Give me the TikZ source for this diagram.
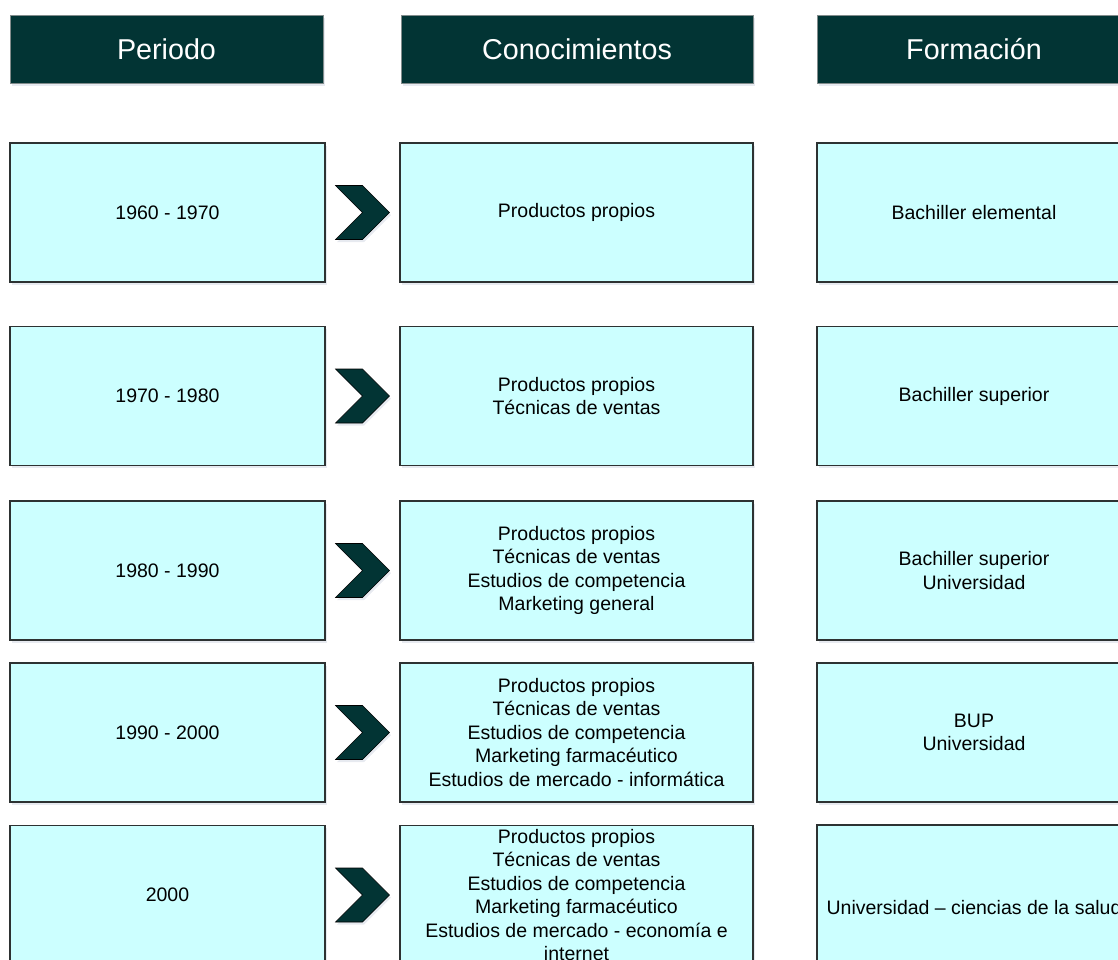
\documentclass[tikz,border=0pt]{standalone}
\usepackage{fontspec}
\setmainfont{Liberation Sans}
\usetikzlibrary{calc,shadows}
\definecolor{headfill}{RGB}{2,52,52}
\definecolor{headline}{RGB}{130,140,140}
\definecolor{cellfill}{RGB}{204,255,255}
\definecolor{cellline}{RGB}{45,50,50}
\definecolor{shadowcol}{RGB}{60,80,130}
\begin{document}
\begin{tikzpicture}[x=1pt, y=-1pt,
    every node/.style={align=center, inner sep=0pt, font=\fontsize{19.5}{23.5}\selectfont},
    softshadow/.style={drop shadow={shadow xshift=1.5pt, shadow yshift=-2.5pt, opacity=0.12, fill=shadowcol}},
    head/.style={draw=headline, fill=headfill, text=white, line width=1pt, minimum height=68pt,
        font=\fontsize{28.7}{34}\selectfont, softshadow},
    cell/.style={draw=cellline, fill=cellfill, line width=1.3pt, minimum height=139pt, softshadow},
    chev/.style={draw=black, fill=headfill, line width=0.6pt, softshadow}]
    \clip (0,0) rectangle (1118,959);

    % Headers
    \node[head, minimum width=313pt] (hp) at (166.5,49) {Periodo};
    \node[head, minimum width=352pt] (hc) at (577,49) {Conocimientos};
    \node[head, minimum width=314pt] (hf) at (974,49) {Formación};

    % Periodo
    \node[cell, minimum width=315pt] (p1) at (167.5,212.5) {1960 - 1970};
    \node[cell, minimum width=315pt] (p2) at (167.5,396) {1970 - 1980};
    \node[cell, minimum width=315pt] (p3) at (167.5,570.5) {1980 - 1990};
    \node[cell, minimum width=315pt] (p4) at (167.5,732.5) {1990 - 2000};
    \node[cell, minimum width=315pt] (p5) at (167.5,895) {2000};

    % Conocimientos
    \node[cell, minimum width=353pt] (c1) at (576.5,212.5) {Productos propios};
    \node[cell, minimum width=353pt] (c2) at (576.5,396) {Productos propios\\Técnicas de ventas};
    \node[cell, minimum width=353pt] (c3) at (576.5,570.5) {Productos propios\\Técnicas de ventas\\Estudios de competencia\\Marketing general};
    \node[cell, minimum width=353pt] (c4) at (576.5,732.5) {Productos propios\\Técnicas de ventas\\Estudios de competencia\\Marketing farmacéutico\\Estudios de mercado - informática};
    \node[cell, minimum width=353pt] (c5) at (576.5,895) {Productos propios\\Técnicas de ventas\\Estudios de competencia\\Marketing farmacéutico\\Estudios de mercado - economía e\\internet};

    % Formacion
    \node[cell, minimum width=314pt] (f1) at (974,212.5) {Bachiller elemental};
    \node[cell, minimum width=314pt] (f2) at (974,396) {Bachiller superior};
    \node[cell, minimum width=314pt] (f3) at (974,570.5) {Bachiller superior\\Universidad};
    \node[cell, minimum width=314pt] (f4) at (974,732.5) {BUP\\Universidad};
    \node[cell, minimum width=314pt, minimum height=166pt] (f5) at (974,908) {Universidad – ciencias de la salud};

    % Chevrons
    \foreach \i in {1,...,5} {
        \draw[chev] ($(p\i.east)!0.5!(c\i.west)$) ++(-27,-27) -- ++(27,0) -- ++(27,27)
            -- ++(-27,27) -- ++(-27,0) -- ++(27,-27) -- cycle;
    }
\end{tikzpicture}
\end{document}
